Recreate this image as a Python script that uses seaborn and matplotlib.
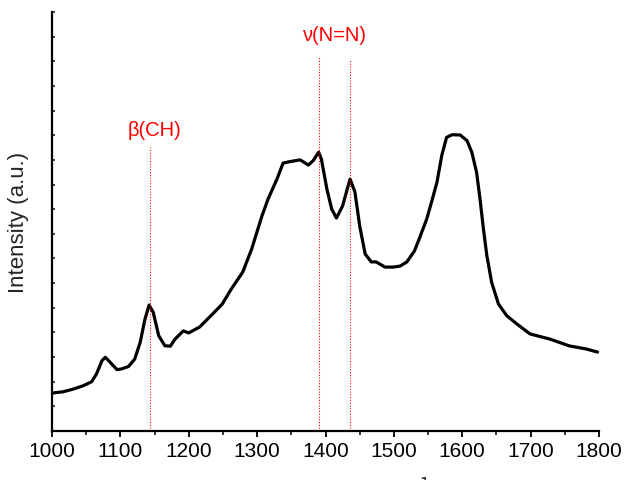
import matplotlib
matplotlib.use("Agg")
import matplotlib.pyplot as plt
import seaborn as sns
import numpy as np
import pandas as pd

# Espectro con bandas asignadas

wavenumber = [1000, 1016, 1031, 1046, 1058, 1065, 1073, 1078, 1085, 1095, 1102,
              1112, 1121, 1129, 1136, 1142, 1148, 1156, 1165, 1173, 1180, 1192,
              1200, 1216, 1235, 1249, 1262, 1279, 1292, 1307, 1316, 1329, 1338,
              1348, 1363, 1375, 1382, 1390, 1394, 1402, 1409, 1416, 1425, 1433,
              1436, 1443, 1450, 1458, 1467, 1474, 1487, 1499, 1509, 1519, 1530,
              1538, 1548, 1555, 1563, 1570, 1577, 1585, 1597, 1607, 1614, 1621,
              1626, 1631, 1636, 1643, 1653, 1665, 1680, 1699, 1728, 1757, 1781,
              1798]
intensity = [1.54, 1.59, 1.70, 1.84, 2.00, 2.31, 2.85, 2.99, 2.79, 2.49, 2.52,
             2.62, 2.92, 3.60, 4.54, 5.11, 4.82, 3.87, 3.46, 3.44, 3.73, 4.06,
             3.98, 4.22, 4.75, 5.15, 5.75, 6.45, 7.38, 8.72, 9.41, 10.22, 10.87,
             10.93, 11.00, 10.79, 10.97, 11.31, 11.03, 9.82, 9.01, 8.64, 9.13, 9.94,
             10.22, 9.70, 8.32, 7.18, 6.86, 6.86, 6.65, 6.65, 6.69, 6.86, 7.30,
             7.86, 8.60, 9.28, 10.09, 11.17, 11.91, 12.02, 12.01, 11.78, 11.31, 10.49,
             9.41, 8.19, 7.11, 6.03, 5.15, 4.68, 4.34, 3.94, 3.73, 3.45, 3.33,
             3.20]

bandas = [1143, 1390, 1436]
bandas_top = [11.52, 15.21, 15.05]
etiquetas = ["β(CH)", "ν(N=N)"]
etiquetas_x = [1150, 1413]
etiquetas_y = [12.25, 16.1]

sns.set_style("ticks")
plt.rcParams["font.family"] = ["Liberation Sans", "DejaVu Sans"]

fig = plt.figure(figsize=(6.28, 4.81), dpi=100)
ax = fig.add_axes([52 / 628, 49 / 481, 547 / 628, 419 / 481])

df = pd.DataFrame({"x": wavenumber, "y": intensity})
sns.lineplot(data=df, x="x", y="y", color="black", lw=2.3, sort=False,
             estimator=None, ax=ax)

ax.vlines(bandas, 0, bandas_top, colors="red", linestyles=(0, (1, 1.5)), lw=0.8)
for t, xx, yy in zip(etiquetas, etiquetas_x, etiquetas_y):
    ax.text(xx, yy, t, color="red", fontsize=14.5, ha="center", va="center")

ax.set_xlim(1000, 1800)
ax.set_ylim(0, 17)
ax.set_xticks(np.arange(1000, 1801, 100))
ax.set_xticks(np.arange(1050, 1800, 100), minor=True)
ax.set_yticks(np.arange(0, 18, 1))
ax.set_yticklabels([])
ax.tick_params(axis="x", which="major", direction="out", length=4.5, width=1.3,
               labelsize=15, pad=3, colors="black")
ax.tick_params(axis="x", which="minor", direction="out", length=3, width=1.3)
ax.tick_params(axis="y", direction="in", length=2, width=1.2)

for s in ["left", "bottom"]:
    ax.spines[s].set_linewidth(1.6)
    ax.spines[s].set_color("black")
sns.despine(ax=ax)

ax.set_xlabel("")
ax.set_ylabel("Intensity (a.u.)", fontsize=16, labelpad=13)
fig.text(438 / 628, 5 / 481, "Wavenumber (cm$^{-1}$)", fontsize=16,
         ha="right", va="top")

fig.savefig("out.png", dpi=100)
